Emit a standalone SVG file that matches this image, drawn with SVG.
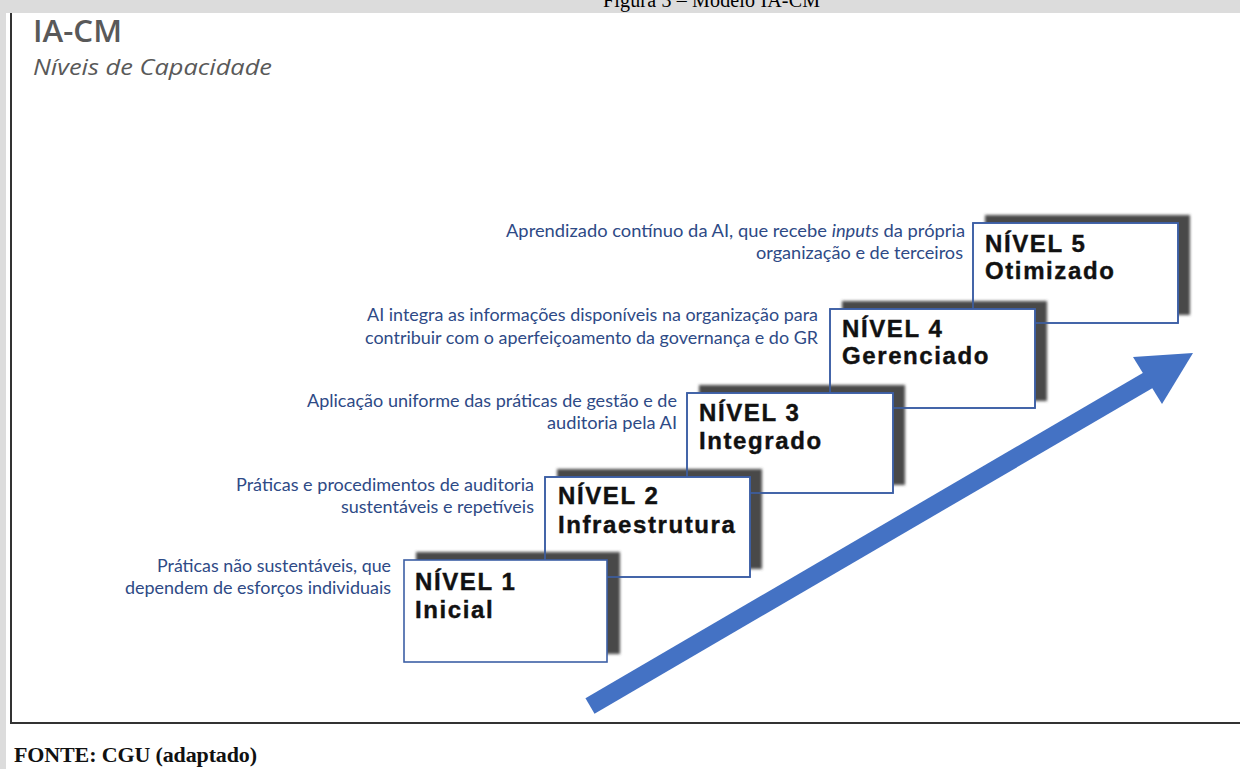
<svg xmlns="http://www.w3.org/2000/svg" width="1240" height="769" viewBox="0 0 1240 769">
<style>
.bg{fill:#ffffff}
.band{fill:#dcdcdc}
.frame{fill:none;stroke:#333333;stroke-width:2}
.shadow{fill:#4a4a4a;filter:url(#blur)}
.box{fill:#ffffff;stroke:#3d5fa5;stroke-width:1.6}
.edge{fill:none;stroke:#3d5fa5;stroke-width:1.6}
.lvl{font-family:"Liberation Sans",Arial,sans-serif;font-weight:bold;font-size:24px;letter-spacing:1.6px;fill:#111111;stroke:#111111;stroke-width:0.4}
.lbl{font-family:Lato,"Open Sans",sans-serif;font-size:16.5px;fill:#2e4a86;text-anchor:end}
.cap{font-family:"Liberation Serif","Times New Roman",serif}
</style>
<defs>
<filter id="blur" x="-10%" y="-10%" width="120%" height="120%"><feGaussianBlur stdDeviation="1.4"/></filter>
</defs>
<rect class="bg" x="0" y="0" width="1240" height="769"/>
<rect class="band" x="0" y="0" width="1240" height="13"/>
<rect class="band" x="0" y="13" width="6" height="756"/>
<text class="cap" x="603" y="7" font-size="20" textLength="217" fill="#000">Figura 3 – Modelo IA-CM</text>
<path class="frame" d="M11,13 V723 H1240"/>
<text x="33" y="42" font-family="'Open Sans','Liberation Sans',sans-serif" font-weight="600" font-size="30" fill="#595959" textLength="89" lengthAdjust="spacingAndGlyphs">IA-CM</text>
<text x="33" y="75" font-family="'Open Sans','Liberation Sans',sans-serif" font-style="italic" font-size="22" fill="#595959" textLength="239" lengthAdjust="spacingAndGlyphs">Níveis de Capacidade</text>

<g id="node5">
<rect class="shadow" x="985" y="215" width="205" height="100"/>
<rect class="box" x="973" y="223" width="205" height="100"/>
<text class="lvl" x="985" y="252">NÍVEL 5</text>
<text class="lvl" x="985" y="279">Otimizado</text>
<text class="lbl" x="965" y="237" textLength="459" lengthAdjust="spacingAndGlyphs">Aprendizado contínuo da AI, que recebe <tspan font-style="italic">inputs</tspan> da própria</text>
<text class="lbl" x="963" y="259" textLength="207" lengthAdjust="spacingAndGlyphs">organização e  de terceiros</text>
</g>

<g id="node4">
<rect class="shadow" x="842" y="301" width="205" height="100"/>
<rect class="edge" x="973" y="223" width="205" height="100"/>
<rect class="box" x="830" y="309" width="205" height="99"/>
<text class="lvl" x="842" y="337">NÍVEL 4</text>
<text class="lvl" x="842" y="364">Gerenciado</text>
<text class="lbl" x="818" y="321" textLength="451" lengthAdjust="spacingAndGlyphs">AI integra as informações disponíveis na organização para</text>
<text class="lbl" x="818" y="344" textLength="453" lengthAdjust="spacingAndGlyphs">contribuir com o aperfeiçoamento da governança e do GR</text>
</g>

<g id="node3">
<rect class="shadow" x="699" y="385" width="206" height="100"/>
<rect class="edge" x="830" y="309" width="205" height="99"/>
<rect class="box" x="687" y="393" width="206" height="100"/>
<text class="lvl" x="699" y="421">NÍVEL 3</text>
<text class="lvl" x="699" y="449">Integrado</text>
<text class="lbl" x="677" y="407" textLength="370" lengthAdjust="spacingAndGlyphs">Aplicação uniforme das práticas de gestão e de</text>
<text class="lbl" x="677" y="429" textLength="130" lengthAdjust="spacingAndGlyphs">auditoria pela AI</text>
</g>

<g id="node2">
<rect class="shadow" x="557" y="469" width="205" height="100"/>
<rect class="edge" x="687" y="393" width="206" height="100"/>
<rect class="box" x="545" y="477" width="205" height="100"/>
<text class="lvl" x="558" y="504">NÍVEL 2</text>
<text class="lvl" x="558" y="533">Infraestrutura</text>
<text class="lbl" x="534" y="491" textLength="298" lengthAdjust="spacingAndGlyphs">Práticas e procedimentos de auditoria</text>
<text class="lbl" x="534" y="513" textLength="193" lengthAdjust="spacingAndGlyphs">sustentáveis e repetíveis</text>
</g>

<g id="node1">
<rect class="shadow" x="416" y="552" width="204" height="102"/>
<rect class="edge" x="545" y="477" width="205" height="100"/>
<rect class="box" x="404" y="560" width="203" height="102"/>
<text class="lvl" x="415" y="590">NÍVEL 1</text>
<text class="lvl" x="415" y="618">Inicial</text>
<text class="lbl" x="391" y="572" textLength="234" lengthAdjust="spacingAndGlyphs">Práticas não sustentáveis, que</text>
<text class="lbl" x="391" y="594" textLength="266" lengthAdjust="spacingAndGlyphs">dependem de esforços individuais</text>
</g>

<g id="connectors">
<line x1="590" y1="706" x2="1152" y2="378" stroke="#4472c4" stroke-width="18"/>
<polygon points="1193,353 1133,357 1162,404" fill="#4472c4"/>
</g>

<text class="cap" x="14" y="762" font-size="22" font-weight="bold" fill="#111" textLength="243">FONTE: CGU (adaptado)</text>
</svg>
